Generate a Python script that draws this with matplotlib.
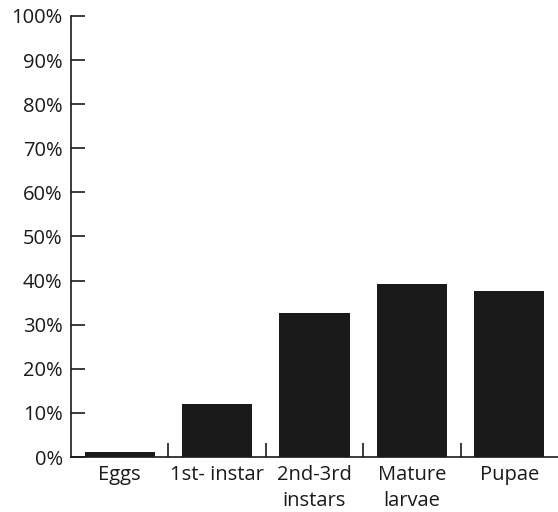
import matplotlib
matplotlib.use("Agg")
import matplotlib.pyplot as plt
import numpy as np

plt.rcParams['font.family'] = ['Open Sans', 'DejaVu Sans']

stages = ["Eggs", "1st- instar", "2nd-3rd\ninstars", "Mature\nlarvae", "Pupae"]
percent = [1.1, 12.0, 32.6, 39.2, 37.6]
y_ticks = [0, 10, 20, 30, 40, 50, 60, 70, 80, 90, 100]

fig = plt.figure(figsize=(5.58, 5.12), dpi=100)
ax = fig.add_axes([0.1272, 0.1074, 0.8728, 0.8614])

x = np.arange(len(stages))
ax.bar(x, percent, width=0.72, color='#1a1a1a')

ax.set_xlim(-0.5, len(stages) - 0.5)
ax.set_ylim(0, 100)
ax.set_yticks(y_ticks)
ax.set_yticklabels([f"{v}%" for v in y_ticks])

# boundary ticks, labels in the middle of each category
ax.set_xticks(x[:-1] + 0.5)
ax.set_xticklabels([])
ax.set_xticks(x, minor=True)
ax.set_xticklabels(stages, minor=True, linespacing=1.4)
ax.tick_params(axis='x', which='minor', length=0, pad=6)
ax.tick_params(axis='x', which='major', direction='in', length=10, width=1.2)
ax.tick_params(axis='y', direction='in', length=10, width=1.2, pad=6)
ax.tick_params(which='both', labelsize=14.5, colors='#1a1a1a')

for side in ['top', 'right']:
    ax.spines[side].set_visible(False)
for side in ['left', 'bottom']:
    ax.spines[side].set_linewidth(1.2)
    ax.spines[side].set_color('#1a1a1a')

fig.savefig("out.png", dpi=100)
